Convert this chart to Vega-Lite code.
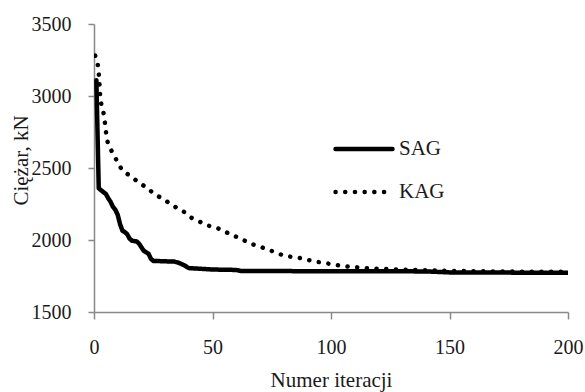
{
  "$schema": "https://vega.github.io/schema/vega-lite/v6.json",
  "width": 474,
  "height": 288,
  "autosize": {"type": "none"},
  "padding": {"left": 94, "top": 24, "right": 17, "bottom": 80},
  "background": "white",
  "config": {
    "view": {"stroke": null},
    "font": "Liberation Serif",
    "axis": {
      "grid": false,
      "domainColor": "#888888",
      "tickColor": "#888888",
      "domainWidth": 1.5,
      "tickWidth": 1.5,
      "labelFont": "Liberation Serif",
      "titleFont": "Liberation Serif",
      "labelFontSize": 20,
      "titleFontSize": 21,
      "labelColor": "#1a1a1a",
      "titleColor": "#1a1a1a",
      "titleFontWeight": "normal"
    }
  },
  "data": {
    "values": [
      {"iter": 1, "value": 3110, "series": "SAG"},
      {"iter": 2, "value": 2360, "series": "SAG"},
      {"iter": 3, "value": 2345, "series": "SAG"},
      {"iter": 5, "value": 2320, "series": "SAG"},
      {"iter": 6, "value": 2290, "series": "SAG"},
      {"iter": 7, "value": 2265, "series": "SAG"},
      {"iter": 8, "value": 2230, "series": "SAG"},
      {"iter": 9, "value": 2210, "series": "SAG"},
      {"iter": 10, "value": 2175, "series": "SAG"},
      {"iter": 11, "value": 2110, "series": "SAG"},
      {"iter": 12, "value": 2065, "series": "SAG"},
      {"iter": 13, "value": 2055, "series": "SAG"},
      {"iter": 14, "value": 2040, "series": "SAG"},
      {"iter": 15, "value": 2010, "series": "SAG"},
      {"iter": 16, "value": 1995, "series": "SAG"},
      {"iter": 18, "value": 1990, "series": "SAG"},
      {"iter": 19, "value": 1975, "series": "SAG"},
      {"iter": 20, "value": 1950, "series": "SAG"},
      {"iter": 21, "value": 1925, "series": "SAG"},
      {"iter": 22, "value": 1915, "series": "SAG"},
      {"iter": 23, "value": 1905, "series": "SAG"},
      {"iter": 24, "value": 1870, "series": "SAG"},
      {"iter": 25, "value": 1855, "series": "SAG"},
      {"iter": 30, "value": 1852, "series": "SAG"},
      {"iter": 34, "value": 1850, "series": "SAG"},
      {"iter": 36, "value": 1840, "series": "SAG"},
      {"iter": 38, "value": 1825, "series": "SAG"},
      {"iter": 40, "value": 1805, "series": "SAG"},
      {"iter": 45, "value": 1800, "series": "SAG"},
      {"iter": 50, "value": 1795, "series": "SAG"},
      {"iter": 60, "value": 1792, "series": "SAG"},
      {"iter": 62, "value": 1785, "series": "SAG"},
      {"iter": 100, "value": 1783, "series": "SAG"},
      {"iter": 140, "value": 1782, "series": "SAG"},
      {"iter": 150, "value": 1775, "series": "SAG"},
      {"iter": 200, "value": 1772, "series": "SAG"},
      {"iter": 0.5, "value": 3280, "series": "KAG"},
      {"iter": 1.5, "value": 3230, "series": "KAG"},
      {"iter": 2, "value": 3160, "series": "KAG"},
      {"iter": 2.3, "value": 3090, "series": "KAG"},
      {"iter": 2.5, "value": 3020, "series": "KAG"},
      {"iter": 3, "value": 2950, "series": "KAG"},
      {"iter": 4, "value": 2884, "series": "KAG"},
      {"iter": 4.6, "value": 2815, "series": "KAG"},
      {"iter": 5.1, "value": 2745, "series": "KAG"},
      {"iter": 5.8, "value": 2676, "series": "KAG"},
      {"iter": 7.2, "value": 2625, "series": "KAG"},
      {"iter": 8.9, "value": 2574, "series": "KAG"},
      {"iter": 10.5, "value": 2521, "series": "KAG"},
      {"iter": 12.4, "value": 2475, "series": "KAG"},
      {"iter": 15.9, "value": 2440, "series": "KAG"},
      {"iter": 18.7, "value": 2400, "series": "KAG"},
      {"iter": 22.2, "value": 2365, "series": "KAG"},
      {"iter": 25, "value": 2325, "series": "KAG"},
      {"iter": 28.6, "value": 2289, "series": "KAG"},
      {"iter": 32, "value": 2255, "series": "KAG"},
      {"iter": 35, "value": 2222, "series": "KAG"},
      {"iter": 38, "value": 2195, "series": "KAG"},
      {"iter": 41, "value": 2155, "series": "KAG"},
      {"iter": 44, "value": 2132, "series": "KAG"},
      {"iter": 47.5, "value": 2102, "series": "KAG"},
      {"iter": 51, "value": 2090, "series": "KAG"},
      {"iter": 55, "value": 2062, "series": "KAG"},
      {"iter": 58, "value": 2033, "series": "KAG"},
      {"iter": 61.6, "value": 2015, "series": "KAG"},
      {"iter": 65.1, "value": 1980, "series": "KAG"},
      {"iter": 68.9, "value": 1960, "series": "KAG"},
      {"iter": 72.9, "value": 1937, "series": "KAG"},
      {"iter": 76.7, "value": 1913, "series": "KAG"},
      {"iter": 80.3, "value": 1890, "series": "KAG"},
      {"iter": 84.5, "value": 1881, "series": "KAG"},
      {"iter": 88.6, "value": 1870, "series": "KAG"},
      {"iter": 92.5, "value": 1852, "series": "KAG"},
      {"iter": 96.8, "value": 1842, "series": "KAG"},
      {"iter": 101, "value": 1830, "series": "KAG"},
      {"iter": 105, "value": 1818, "series": "KAG"},
      {"iter": 109, "value": 1813, "series": "KAG"},
      {"iter": 113, "value": 1807, "series": "KAG"},
      {"iter": 117, "value": 1802, "series": "KAG"},
      {"iter": 125, "value": 1797, "series": "KAG"},
      {"iter": 135, "value": 1792, "series": "KAG"},
      {"iter": 150, "value": 1786, "series": "KAG"},
      {"iter": 170, "value": 1781, "series": "KAG"},
      {"iter": 200, "value": 1779, "series": "KAG"}
    ]
  },
  "mark": {"type": "line", "color": "black", "strokeWidth": 4.5, "strokeCap": "round", "strokeJoin": "round", "clip": true},
  "encoding": {
    "x": {
      "field": "iter", "type": "quantitative",
      "scale": {"domain": [0, 200], "nice": false},
      "axis": {"values": [0, 50, 100, 150, 200], "format": "d", "title": "Numer iteracji", "tickSize": 7,
               "labelPadding": 34, "labelBaseline": "alphabetic", "labelFlush": false,
               "titleY": 74, "titleBaseline": "alphabetic"}
    },
    "y": {
      "field": "value", "type": "quantitative",
      "scale": {"domain": [1500, 3500], "nice": false, "zero": false},
      "axis": {"values": [1500, 2000, 2500, 3000, 3500], "format": "d", "title": "Ciężar, kN", "tickSize": 6,
               "labelPadding": 17, "labelOverlap": false, "labelFlush": false,
               "titleX": -63, "titleY": 136, "titleBaseline": "bottom"}
    },
    "strokeDash": {
      "field": "series", "type": "nominal",
      "scale": {"domain": ["SAG", "KAG"], "range": [[1, 0], [0.1, 9.6]]},
      "legend": {
        "title": null, "orient": "none", "legendX": 239, "legendY": 94,
        "symbolType": "stroke", "symbolSize": 3249, "symbolStrokeWidth": 4.5,
        "symbolStrokeColor": "black", "labelFontSize": 21, "labelFont": "Liberation Serif",
        "labelColor": "#1a1a1a", "rowPadding": 2, "labelOffset": 4,
        "encode": {"symbols": {"update": {"strokeCap": {"value": "round"}}}}
      }
    }
  }
}
